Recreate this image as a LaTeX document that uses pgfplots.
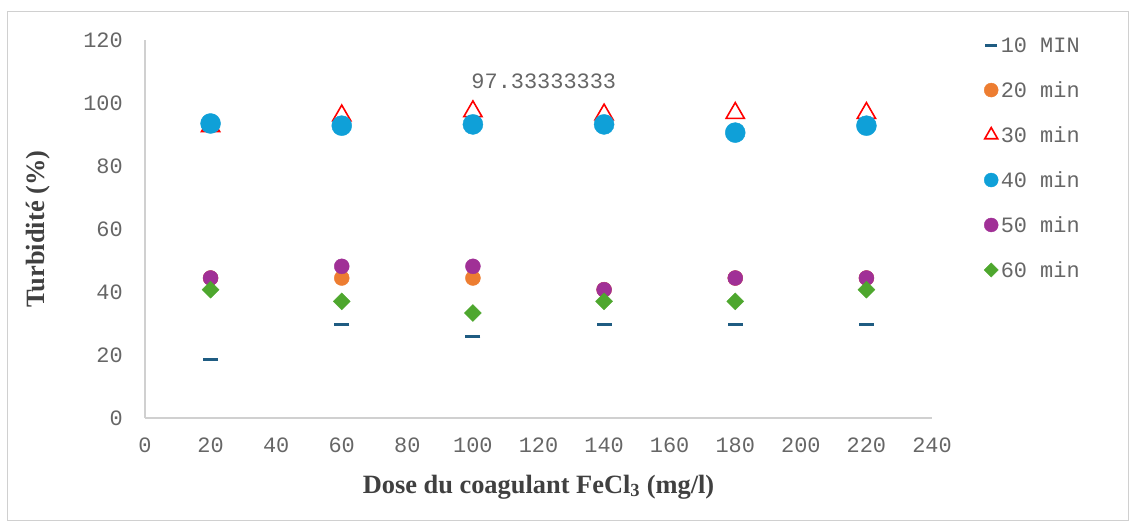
\documentclass[border=0pt]{standalone}
\usepackage{fontspec}
\setmainfont{Liberation Serif}
\setmonofont{Liberation Mono}
\usepackage{pgfplots}
\pgfplotsset{compat=1.18}
\definecolor{cA}{HTML}{1F5C82}
\definecolor{cB}{HTML}{ED7D31}
\definecolor{cC}{HTML}{FF0000}
\definecolor{cD}{HTML}{0FA0D8}
\definecolor{cE}{HTML}{A03096}
\definecolor{cF}{HTML}{4EA72E}
\definecolor{tickgray}{HTML}{666666}
\definecolor{labgray}{HTML}{404040}
\definecolor{axisgray}{HTML}{D0D0D0}
\pgfplotsset{
  lgmark/.style={legend image code/.code={\draw[mark size=#1] plot coordinates {(0bp,0bp)};}},
}
\begin{document}
\begin{tikzpicture}
\useasboundingbox (-145bp,-104bp) rectangle (985bp,418bp);
\draw[draw=axisgray, line width=1bp] (-137bp,-102bp) rectangle (983bp,406bp);
\begin{axis}[
  scale only axis, width=787bp, height=378bp,
  xmin=0, xmax=240, ymin=0, ymax=120,
  xtick={0,20,...,240}, ytick={0,20,...,120},
  axis x line*=bottom, axis y line*=left,
  axis line style={-, draw=axisgray, line width=1.2bp},
  major tick length=0pt,
  /pgf/number format/assume math mode=true,
  tick label style={font=\fontsize{22}{22}\selectfont\ttfamily, text=tickgray},
  xticklabel style={anchor=center, inner sep=0pt, yshift=-27bp},
  yticklabel style={anchor=east, inner sep=0pt, xshift=-22bp},
  xlabel={\textbf{Dose du coagulant FeCl\textsubscript{3} (mg/l)}},
  ylabel={\textbf{Turbidité (\%)}},
  label style={font=\fontsize{26.5}{26.5}\selectfont, text=labgray},
  xlabel style={at={(axis description cs:0.5,-0.1825)}, anchor=center},
  ylabel style={at={(axis description cs:-0.136,0.5)}, anchor=center},
  legend style={at={(1.066,1.012)}, anchor=north west, draw=none, fill=none,
    font=\fontsize{22}{22}\selectfont\ttfamily, text=tickgray,
    row sep=23.6bp, inner sep=0pt, nodes={inner xsep=2.5bp}},
  legend cell align=left,
  clip=false,
]
\addplot[only marks, mark=-, mark size=7.5bp, line width=3.5bp, color=cA, lgmark=6bp] coordinates {
 (20,18.52) (60,29.63) (100,25.93) (140,29.63) (180,29.63) (220,29.63)};
\addlegendentry{10 MIN}
\addplot[only marks, mark=*, mark size=7.5bp, draw=none, fill=cB, color=cB, lgmark=7bp] coordinates {
 (20,44.44) (60,44.44) (100,44.44) (140,40.74) (180,44.44) (220,44.44)};
\addlegendentry{20 min}
\addplot[only marks, mark=triangle, mark size=10.5bp, line width=1.6bp, color=cC, mark options={fill=white}, lgmark=7.5bp] coordinates {
 (20,92.59) (60,96.0) (100,97.33) (140,96.3) (180,96.8) (220,96.8)};
\addlegendentry{30 min}
\addplot[only marks, mark=*, mark size=10bp, draw=none, fill=cD, color=cD, lgmark=7bp] coordinates {
 (20,93.5) (60,92.8) (100,93.2) (140,93.2) (180,90.6) (220,92.8)};
\addlegendentry{40 min}
\addplot[only marks, mark=*, mark size=7.5bp, draw=none, fill=cE, color=cE, lgmark=7bp] coordinates {
 (20,44.44) (60,48.15) (100,48.15) (140,40.74) (180,44.44) (220,44.44)};
\addlegendentry{50 min}
\addplot[only marks, mark=square*, mark size=6bp, draw=none, fill=cF, color=cF, mark options={rotate=45}, lgmark=5bp] coordinates {
 (20,40.74) (60,37.04) (100,33.33) (140,37.04) (180,37.04) (220,40.74)};
\addlegendentry{60 min}
\node[anchor=west, inner sep=0pt, font=\fontsize{22}{22}\selectfont\ttfamily, text=tickgray] at (axis cs:99.5,106.8) {97.33333333};
\end{axis}
\end{tikzpicture}
\end{document}
